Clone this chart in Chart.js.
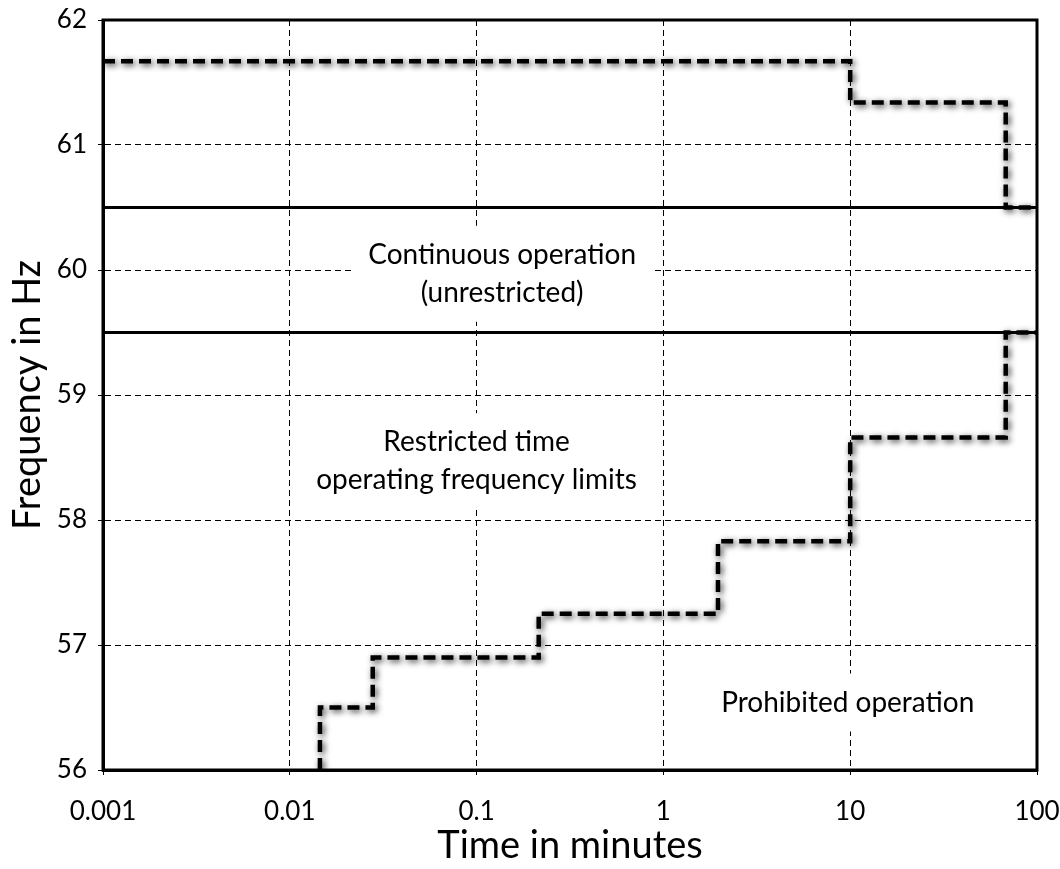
<!DOCTYPE html>
<html>
<head>
<meta charset="utf-8">
<title>Frequency limits</title>
<script src="https://cdn.jsdelivr.net/npm/chart.js@4"></script>
<style>
  body { margin: 0; background: #fff; }
  #caja { width: 1060px; height: 869px; }
</style>
</head>
<body>
<div id="caja"><canvas id="grafico"></canvas></div>
<script>
// decades for the log time axis (minutes)
const tiempos = [0.001, 0.01, 0.1, 1, 10, 100];
const frecuencias = [56, 57, 58, 59, 60, 61, 62];

// over-frequency limit (dashed, top)
const sobreTiempo = [0.001, 10, 68, 100];
const sobreFrec = [61.67, 61.34, 60.5, 60.5];

// under-frequency limit (dashed, bottom)
const bajoTiempo = [0.0145, 0.0278, 0.215, 1.96, 10, 68, 100];
const bajoFrec = [56, 56.5, 56.9, 57.25, 57.83, 58.66, 59.5];

// continuous operation band
const bandaTiempo = [0.001, 100];
const bandaAlta = [60.5, 60.5];
const bandaBaja = [59.5, 59.5];

const textos = [
  { lineas: ['Continuous operation', '(unrestricted)'], x: 0.137, y: 59.97 },
  { lineas: ['Restricted time', 'operating frequency limits'], x: 0.1, y: 58.47 },
  { lineas: ['Prohibited operation'], x: 9.7, y: 56.54 }
];

function puntos(xs, ys) {
  return xs.map((x, i) => ({ x: x, y: ys[i] }));
}

const sombra = {
  id: 'sombra',
  beforeDatasetDraw(chart, args) {
    const ds = chart.data.datasets[args.index];
    if (ds.sombra) {
      chart.ctx.save();
      chart.ctx.shadowColor = 'rgba(0,0,0,0.8)';
      chart.ctx.shadowBlur = 6;
      chart.ctx.shadowOffsetX = 2;
      chart.ctx.shadowOffsetY = 2;
    }
  },
  afterDatasetDraw(chart, args) {
    if (chart.data.datasets[args.index].sombra) chart.ctx.restore();
  }
};

// text labels with a white box behind them (hides the grid)
const etiquetas = {
  id: 'etiquetas',
  beforeDatasetsDraw(chart) {
    const ctx = chart.ctx;
    const sx = chart.scales.x, sy = chart.scales.y;
    ctx.save();
    ctx.font = '28px Lato';
    ctx.textAlign = 'center';
    ctx.textBaseline = 'middle';
    const alto = 38;
    textos.forEach(t => {
      const cx = sx.getPixelForValue(t.x);
      const cy = sy.getPixelForValue(t.y);
      const ancho = Math.max(...t.lineas.map(l => ctx.measureText(l).width));
      const h = alto * t.lineas.length;
      ctx.fillStyle = '#fff';
      ctx.fillRect(cx - ancho / 2 - 16, cy - h / 2 - 10, ancho + 32, h + 20);
      ctx.fillStyle = '#000';
      t.lineas.forEach((l, i) => {
        ctx.fillText(l, cx, cy - h / 2 + alto * (i + 0.5));
      });
    });
    ctx.restore();
  }
};

const marco = {
  id: 'marco',
  afterDraw(chart) {
    const a = chart.chartArea;
    const ctx = chart.ctx;
    ctx.save();
    ctx.strokeStyle = '#000';
    ctx.lineWidth = 3;
    ctx.strokeRect(a.left, a.top, a.right - a.left, a.bottom - a.top);
    ctx.restore();
  }
};

Chart.defaults.font.family = 'Lato';
Chart.defaults.color = '#000';

const ctx = document.getElementById('grafico');

new Chart(ctx, {
  type: 'line',
  data: {
    datasets: [
      {
        data: puntos(bandaTiempo, bandaAlta),
        borderColor: '#000', borderWidth: 3, pointRadius: 0
      },
      {
        data: puntos(bandaTiempo, bandaBaja),
        borderColor: '#000', borderWidth: 3, pointRadius: 0
      },
      {
        data: puntos(sobreTiempo, sobreFrec),
        stepped: 'before', sombra: true,
        borderColor: '#000', borderWidth: 4.5, borderDash: [12, 6], pointRadius: 0
      },
      {
        data: puntos(bajoTiempo, bajoFrec),
        stepped: 'after', sombra: true,
        borderColor: '#000', borderWidth: 4.5, borderDash: [12, 6], pointRadius: 0
      }
    ]
  },
  options: {
    responsive: true,
    maintainAspectRatio: false,
    animation: false,
    layout: { padding: { top: 20, right: 23, left: 0, bottom: 0 } },
    plugins: { legend: { display: false }, tooltip: { enabled: false } },
    scales: {
      x: {
        type: 'logarithmic',
        min: 0.001,
        max: 100,
        afterBuildTicks: (scale) => { scale.ticks = tiempos.map(v => ({ value: v })); },
        afterFit: (scale) => {
          scale.height = 99;
          scale.paddingLeft = 0;
          scale.paddingRight = 0;
        },
        ticks: {
          font: { size: 26 },
          padding: 21,
          maxRotation: 0,
          autoSkip: false,
          callback: (v) => String(v)
        },
        grid: {
          color: '#000', lineWidth: 1, tickLength: 5,
          tickColor: '#000', tickBorderDash: []
        },
        border: { color: '#000', width: 3, dash: [6, 4] },
        title: { display: true, text: 'Time in minutes', font: { size: 38 }, padding: { top: 0, bottom: 0 } }
      },
      y: {
        min: 56,
        max: 62,
        afterBuildTicks: (scale) => { scale.ticks = frecuencias.map(v => ({ value: v })); },
        afterFit: (scale) => {
          scale.width = 103;
          scale.paddingTop = 0;
          scale.paddingBottom = 0;
        },
        ticks: { font: { size: 26 }, padding: 11 },
        grid: {
          color: '#000', lineWidth: 1, tickLength: 5,
          tickColor: '#000', tickBorderDash: []
        },
        border: { color: '#000', width: 3, dash: [6, 4] },
        title: { display: true, text: 'Frequency in Hz', font: { size: 38 }, padding: { top: 5, bottom: 0 } }
      }
    }
  },
  plugins: [sombra, etiquetas, marco]
});
</script>
</body>
</html>
